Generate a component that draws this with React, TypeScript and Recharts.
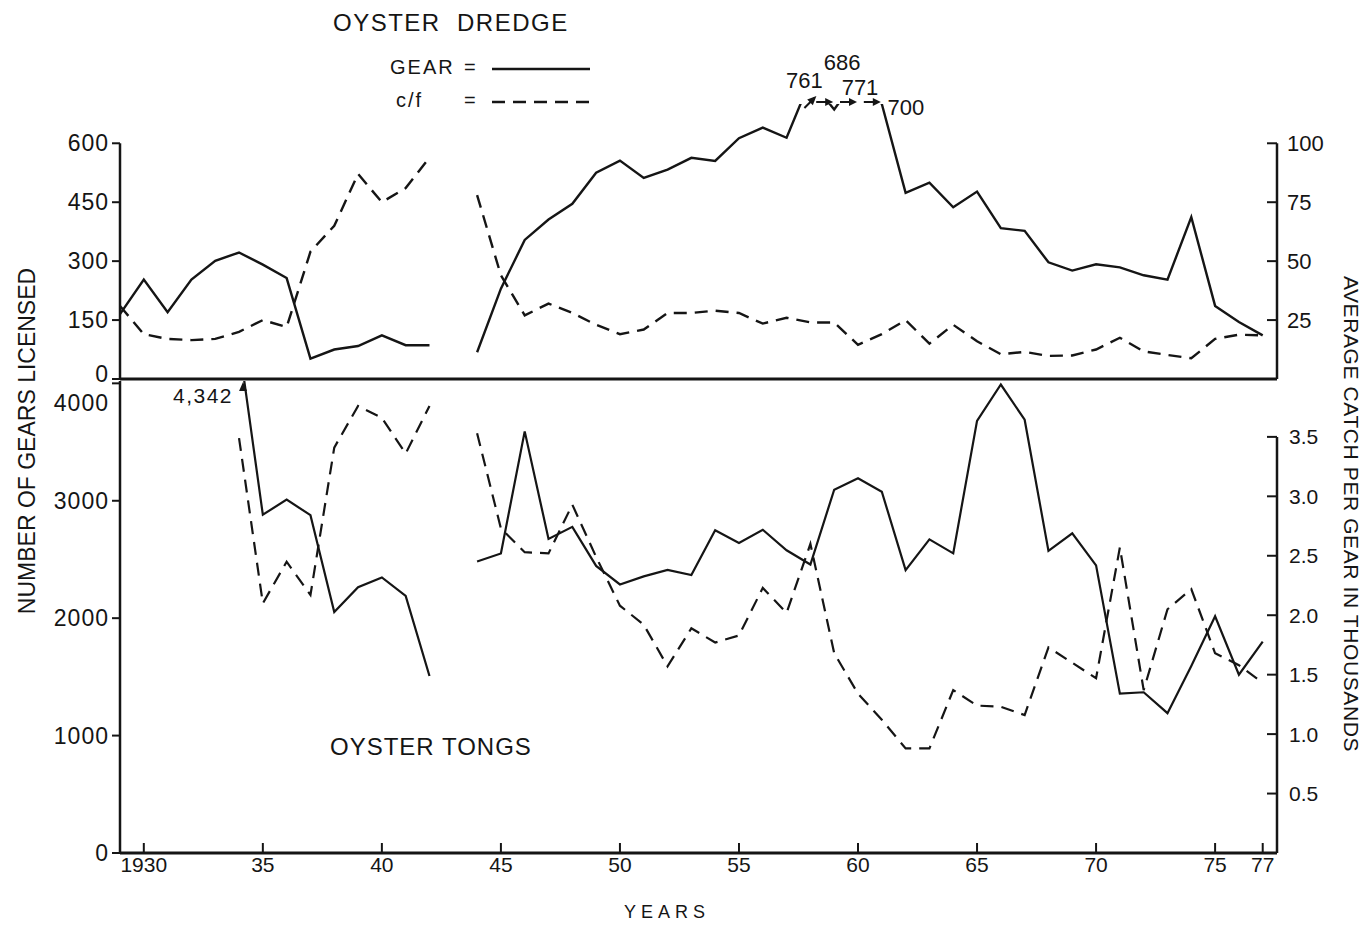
import React from 'react';
import { LineChart, Line, XAxis, YAxis, ReferenceLine, LabelList, Legend } from 'recharts';

// ---------- data ----------
const years = [
  1929, 1930, 1931, 1932, 1933, 1934, 1935, 1936, 1937, 1938,
  1939, 1940, 1941, 1942, 1943, 1944, 1945, 1946, 1947, 1948,
  1949, 1950, 1951, 1952, 1953, 1954, 1955, 1956, 1957, 1958,
  1959, 1960, 1961, 1962, 1963, 1964, 1965, 1966, 1967, 1968,
  1969, 1970, 1971, 1972, 1973, 1974, 1975, 1976, 1977,
];

// Oyster dredge: number of gears licensed
const dredgeGear: (number | null)[] = [
  165, 253, 170, 253, 301, 322, 291, 257, 52, 75,
  84, 111, 86, 86, null, 68, 230, 354, 406, 446,
  525, 556, 512, 533, 563, 555, 613, 640, 614, 761,
  686, 771, 700, 474, 500, 437, 477, 384, 377, 297,
  276, 292, 284, 264, 253, 412, 186, 145, 111,
];

// Oyster dredge: catch per gear (c/f)
const dredgeCatch: (number | null)[] = [
  31, 19, 17, 16.5, 17, 20, 25, 22, 54, 65,
  87, 75, 81, 94, null, 78, 44, 27, 32, 28,
  23, 19, 21, 28, 28, 29, 28, 23.5, 26, 24,
  24, 14.5, 19, 25, 15, 23, 16, 10.5, 11.5, 9.8,
  10, 12.5, 17.5, 11.7, 10.2, 8.8, 17, 18.8, 18.5,
];

// Oyster tongs: number of gears licensed
const tongsGear: (number | null)[] = [
  null, null, null, null, null, 4342, 2881, 3010, 2877, 2052,
  2264, 2347, 2190, 1507, null, 2483, 2551, 3591, 2675, 2778,
  2445, 2287, 2356, 2411, 2367, 2748, 2641, 2753, 2578, 2457,
  3094, 3191, 3077, 2409, 2671, 2552, 3680, 3990, 3690, 2573,
  2722, 2450, 1357, 1369, 1191, 1592, 2016, 1518, 1800,
];

// Oyster tongs: catch per gear in thousands
const tongsCatch: (number | null)[] = [
  null, null, null, null, null, 3.49, 2.1, 2.45, 2.17, 3.41,
  3.76, 3.66, 3.36, 3.76, null, 3.53, 2.73, 2.53, 2.52, 2.93,
  2.49, 2.08, 1.92, 1.57, 1.89, 1.77, 1.83, 2.23, 2.02, 2.6,
  1.68, 1.34, 1.12, 0.88, 0.88, 1.37, 1.24, 1.23, 1.16, 1.73,
  1.6, 1.47, 2.57, 1.37, 2.05, 2.22, 1.68, 1.58, 1.43,
];

const yearTicks = [1930, 1935, 1940, 1945, 1950, 1955, 1960, 1965, 1970, 1975, 1977];
const dredgeGearTicks = [0, 150, 300, 450, 600];
const dredgeCatchTicks = [25, 50, 75, 100];
const tongsGearTicks = [0, 1000, 2000, 3000, 4000];
const tongsCatchTicks = [0.5, 1, 1.5, 2, 2.5, 3, 3.5];

// years whose gear counts run off the top of the scale (annotated with their value)
const dredgeOffScaleYears = [1958, 1959, 1960, 1961];
const tongsOffScaleYears = [1934];

// ---------- layout / style ----------
const INK = '#151515';
const FONT = "'Liberation Sans', Arial, Helvetica, sans-serif";
const DASH = '13 8';
const X_DOMAIN: [number, number] = [1929, 1977.6];
const DREDGE_GEAR_MAX = 700;
const DREDGE_CATCH_MAX = DREDGE_GEAR_MAX / 6;
const TONGS_GEAR_MAX = 4020;
const TONGS_CATCH_MAX = 3.97;
const DREDGE_TOP = 104;
const TONGS_TOP = 381;
const W = 1371;
const H = 925;

const dredgeLabelOffsets = [
  { dx: -6, dy: -16 },
  { dx: 8, dy: -34 },
  { dx: 2, dy: -9 },
  { dx: 24, dy: 11 },
];

const rows = years.map((year, i) => ({
  year,
  dredgeGear: dredgeGear[i],
  dredgeCatch: dredgeCatch[i],
  tongsGear: tongsGear[i],
  tongsCatch: tongsCatch[i],
}));

const yearLabel = (v: number) => (v === 1930 ? '1930' : String(v).slice(2));

function DredgeOffScaleLabel(props: any) {
  const { index, value } = props;
  const x = props.viewBox?.x ?? props.x;
  if (index == null || x == null || value == null) return null;
  const k = dredgeOffScaleYears.indexOf(years[index]);
  if (k < 0) return null;
  const o = dredgeLabelOffsets[k];
  const y = DREDGE_TOP - 2;
  return (
    <g>
      {k === 0 ? (
        <g>
          <line x1={x - 6} y1={y + 6} x2={x + 4} y2={y - 4} stroke={INK} strokeWidth={2} />
          <path d="M0,0 L-9,-4 L-9,4 Z" transform={`translate(${x + 6},${y - 6}) rotate(-45)`} fill={INK} />
        </g>
      ) : (
        <g>
          <line x1={x - 18} y1={y} x2={x - 4} y2={y} stroke={INK} strokeWidth={2} />
          <path d="M0,0 L-8,-4 L-8,4 Z" transform={`translate(${x - 1},${y})`} fill={INK} />
        </g>
      )}
      <text x={x + o.dx} y={DREDGE_TOP + o.dy} textAnchor="middle" fontSize={22} fill={INK}>
        {String(value)}
      </text>
    </g>
  );
}

function TongsOffScaleLabel(props: any) {
  const { index, value } = props;
  const x = props.viewBox?.x ?? props.x;
  if (index == null || x == null || value == null) return null;
  if (tongsOffScaleYears.indexOf(years[index]) < 0) return null;
  return (
    <g>
      <path d="M0,0 L-4,9 L4,9 Z" transform={`translate(${x + 4},${TONGS_TOP + 1})`} fill={INK} />
      <text x={x - 6} y={TONGS_TOP + 22} textAnchor="end" fontSize={21} letterSpacing={1.5} fill={INK}>
        {Number(value).toLocaleString('en-US')}
      </text>
    </g>
  );
}

function DredgeGearTick(props: any) {
  const { x, y, payload } = props;
  const isBottom = payload.value === dredgeGearTicks[0];
  return (
    <text x={x} y={y + (isBottom ? -5 : 0)} dy="0.355em" textAnchor="end" fontSize={23} letterSpacing={1} fill={INK}>
      {payload.value}
    </text>
  );
}

function TongsGearTick(props: any) {
  const { x, y, payload } = props;
  const isTop = payload.value === tongsGearTicks[tongsGearTicks.length - 1];
  return (
    <text x={x} y={y + (isTop ? 19 : 0)} dy="0.355em" textAnchor="end" fontSize={23} letterSpacing={1} fill={INK}>
      {payload.value}
    </text>
  );
}

function DredgeLegend(props: any) {
  const payload = props.payload || [];
  return (
    <svg width={230} height={64} style={{ overflow: 'visible', display: 'block' }}>
      {payload.map((entry: any, i: number) => {
        const dashed = entry.dataKey === 'dredgeCatch' ? DASH : undefined;
        const cy = 15 + i * 33;
        return (
          <g key={i}>
            <text x={i === 0 ? 2 : 8} y={cy + 7} fontSize={20} letterSpacing={2} fill={INK}>
              {entry.value}
            </text>
            <text x={76} y={cy + 7} fontSize={20} fill={INK}>=</text>
            <line x1={104} x2={202} y1={cy + 2} y2={cy + 2} stroke={INK} strokeWidth={2.5} strokeDasharray={dashed} />
          </g>
        );
      })}
    </svg>
  );
}

const tickLineStyle = { stroke: INK, strokeWidth: 2 };

export default function App() {
  return (
    <div style={{ position: 'absolute', left: 0, top: 0, width: W, height: H, background: '#fff', fontFamily: FONT }}>
      {/* ---------- OYSTER DREDGE ---------- */}
      <div style={{ position: 'absolute', left: 0, top: 0 }}>
        <LineChart width={W} height={400} data={rows} margin={{ top: DREDGE_TOP, right: 34, bottom: 1, left: 60 }}>
          <XAxis
            dataKey="year"
            type="number"
            domain={X_DOMAIN}
            allowDataOverflow
            ticks={yearTicks}
            interval={0}
            tick={false}
            height={20}
            axisLine={{ stroke: INK, strokeWidth: 3 }}
            tickLine={tickLineStyle}
            tickSize={-10}
          />
          <YAxis
            yAxisId="gear"
            domain={[0, DREDGE_GEAR_MAX]}
            allowDataOverflow
            ticks={dredgeGearTicks}
            interval={0}
            width={60}
            axisLine={false}
            tickLine={tickLineStyle}
            tickSize={8}
            tickMargin={3}
            tick={DredgeGearTick}
          />
          <YAxis
            yAxisId="catch"
            orientation="right"
            domain={[0, DREDGE_CATCH_MAX]}
            ticks={dredgeCatchTicks}
            interval={0}
            width={60}
            axisLine={false}
            tickLine={tickLineStyle}
            tickSize={-10}
            tickMargin={20}
            tick={{ fill: INK, fontSize: 22, textAnchor: 'start' }}
          />
          <ReferenceLine
            yAxisId="gear"
            ifOverflow="visible"
            segment={[{ x: X_DOMAIN[0], y: 0 }, { x: X_DOMAIN[0], y: dredgeGearTicks[dredgeGearTicks.length - 1] }]}
            stroke={INK}
            strokeWidth={2.5}
          />
          <ReferenceLine
            yAxisId="catch"
            ifOverflow="visible"
            segment={[{ x: X_DOMAIN[1], y: 0 }, { x: X_DOMAIN[1], y: dredgeCatchTicks[dredgeCatchTicks.length - 1] }]}
            stroke={INK}
            strokeWidth={2.5}
          />
          <Legend
            layout="vertical"
            align="center"
            verticalAlign="middle"
            wrapperStyle={{ left: 388, top: 52, width: 230, height: 64 }}
            content={DredgeLegend}
          />
          <Line
            yAxisId="gear"
            dataKey="dredgeGear"
            name="GEAR"
            stroke={INK}
            strokeWidth={2.4}
            dot={false}
            activeDot={false}
            isAnimationActive={false}
          >
            <LabelList content={DredgeOffScaleLabel} />
          </Line>
          <Line
            yAxisId="catch"
            dataKey="dredgeCatch"
            name="c/f"
            stroke={INK}
            strokeWidth={2.4}
            strokeDasharray={DASH}
            dot={false}
            activeDot={false}
            isAnimationActive={false}
          />
        </LineChart>
      </div>

      {/* ---------- OYSTER TONGS ---------- */}
      <div style={{ position: 'absolute', left: 0, top: 0 }}>
        <LineChart width={W} height={H} data={rows} margin={{ top: TONGS_TOP, right: 34, bottom: 2, left: 60 }}>
          <XAxis
            dataKey="year"
            type="number"
            domain={X_DOMAIN}
            allowDataOverflow
            ticks={yearTicks}
            interval={0}
            tickFormatter={yearLabel}
            height={70}
            axisLine={{ stroke: INK, strokeWidth: 3 }}
            tickLine={tickLineStyle}
            tickSize={-10}
            tickMargin={14}
            tick={{ fill: INK, fontSize: 21 }}
          />
          <YAxis
            yAxisId="gear"
            domain={[0, TONGS_GEAR_MAX]}
            allowDataOverflow
            ticks={tongsGearTicks}
            interval={0}
            width={60}
            axisLine={{ stroke: INK, strokeWidth: 2.5 }}
            tickLine={tickLineStyle}
            tickSize={8}
            tickMargin={3}
            tick={TongsGearTick}
          />
          <YAxis
            yAxisId="catch"
            orientation="right"
            domain={[0, TONGS_CATCH_MAX]}
            ticks={tongsCatchTicks}
            interval={0}
            width={60}
            axisLine={false}
            tickLine={tickLineStyle}
            tickSize={-10}
            tickMargin={22}
            tickFormatter={(v: number) => v.toFixed(1)}
            tick={{ fill: INK, fontSize: 21, textAnchor: 'start' }}
          />
          <ReferenceLine
            yAxisId="catch"
            ifOverflow="visible"
            segment={[{ x: X_DOMAIN[1], y: 0 }, { x: X_DOMAIN[1], y: tongsCatchTicks[tongsCatchTicks.length - 1] }]}
            stroke={INK}
            strokeWidth={2.5}
          />
          <Line
            yAxisId="gear"
            dataKey="tongsGear"
            name="GEAR"
            stroke={INK}
            strokeWidth={2.2}
            dot={false}
            activeDot={false}
            isAnimationActive={false}
          >
            <LabelList content={TongsOffScaleLabel} />
          </Line>
          <Line
            yAxisId="catch"
            dataKey="tongsCatch"
            name="c/f"
            stroke={INK}
            strokeWidth={2.2}
            strokeDasharray={DASH}
            dot={false}
            activeDot={false}
            isAnimationActive={false}
          />
        </LineChart>
      </div>

      {/* ---------- titles ---------- */}
      <svg width={W} height={H} style={{ position: 'absolute', left: 0, top: 0, pointerEvents: 'none' }}>
        <text x={333} y={31} fontSize={24} letterSpacing={1.5} fill={INK} style={{ whiteSpace: 'pre' }}>
          OYSTER  DREDGE
        </text>
        <text x={330} y={755} fontSize={24} letterSpacing={1} fill={INK}>
          OYSTER TONGS
        </text>
        <text
          transform="translate(27,441) rotate(-90)"
          textAnchor="middle"
          dominantBaseline="central"
          fontSize={23}
          fill={INK}
        >
          NUMBER OF GEARS LICENSED
        </text>
        <text
          transform="translate(1351,514) rotate(90)"
          textAnchor="middle"
          dominantBaseline="central"
          fontSize={21}
          letterSpacing={0.6}
          fill={INK}
        >
          AVERAGE CATCH PER GEAR IN THOUSANDS
        </text>
        <text x={624} y={918} fontSize={18} letterSpacing={5} fill={INK}>
          YEARS
        </text>
      </svg>
    </div>
  );
}
